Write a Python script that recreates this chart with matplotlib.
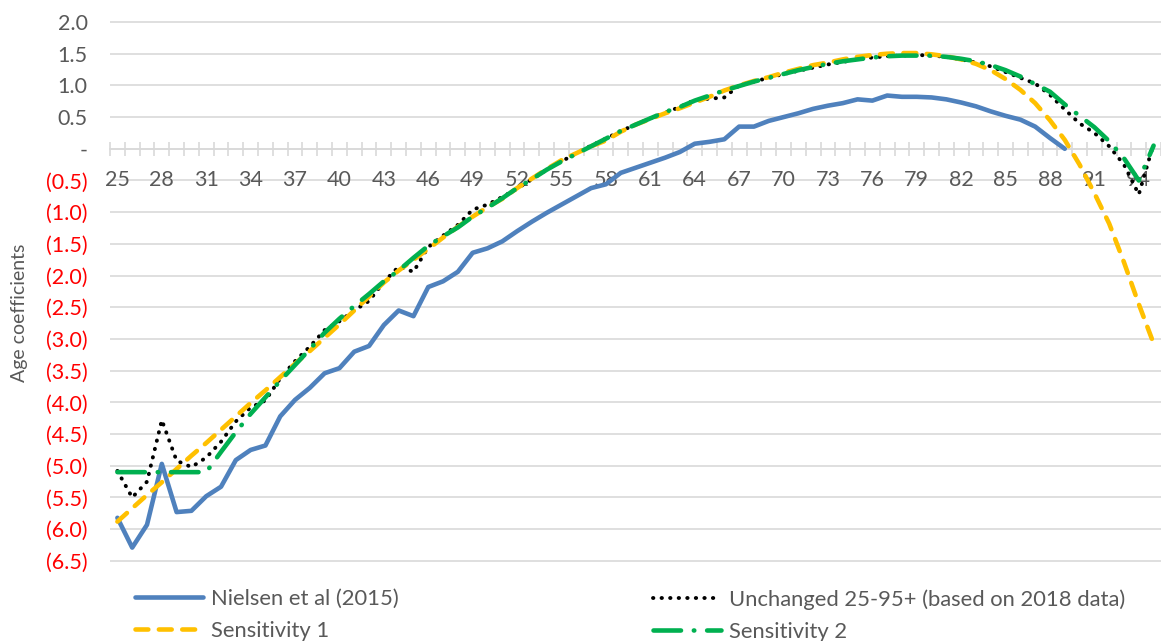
"""
Age coefficients: Nielsen et al (2015) vs 2018 based estimates and sensitivities.
"""

import numpy as np
import matplotlib.pyplot as plt

plt.rcParams['font.family'] = ['Lato', 'DejaVu Sans']

ages = list(range(25, 96))

nielsen = [-5.82, -6.29, -5.93, -4.97, -5.73, -5.71, -5.48, -5.33, -4.91, -4.75,
           -4.68, -4.22, -3.96, -3.77, -3.54, -3.46, -3.20, -3.11, -2.78, -2.55,
           -2.64, -2.18, -2.09, -1.94, -1.64, -1.57, -1.46, -1.30, -1.15, -1.01,
           -0.88, -0.75, -0.62, -0.56, -0.38, -0.30, -0.22, -0.14, -0.05, 0.08,
           0.11, 0.15, 0.35, 0.35, 0.44, 0.50, 0.56, 0.63, 0.68, 0.72,
           0.78, 0.76, 0.84, 0.82, 0.82, 0.81, 0.78, 0.73, 0.67, 0.59,
           0.52, 0.46, 0.35, 0.17, 0.00,
           np.nan, np.nan, np.nan, np.nan, np.nan, np.nan]

unchanged = [-5.08, -5.50, -5.25, -4.28, -4.92, -5.02, -4.87, -4.62, -4.30, -4.08,
             -3.97, -3.62, -3.35, -3.12, -2.86, -2.72, -2.55, -2.40, -2.10, -1.86,
             -1.94, -1.55, -1.37, -1.20, -0.96, -0.88, -0.76, -0.63, -0.48, -0.33,
             -0.20, -0.07, 0.05, 0.16, 0.28, 0.38, 0.48, 0.57, 0.66, 0.77,
             0.79, 0.81, 1.00, 1.06, 1.12, 1.18, 1.23, 1.28, 1.33, 1.37,
             1.41, 1.44, 1.46, 1.47, 1.48, 1.47, 1.45, 1.41, 1.36, 1.30,
             1.21, 1.12, 1.03, 0.85, 0.62, 0.40, 0.25, 0.04, -0.25, -0.72,
             0.08]

sens1 = [-5.88, -5.67, -5.46, -5.26, -5.05, -4.84, -4.64, -4.43, -4.22, -4.01,
         -3.81, -3.60, -3.39, -3.19, -2.98, -2.77, -2.55, -2.33, -2.11, -1.92,
         -1.75, -1.58, -1.40, -1.23, -1.07, -0.92, -0.79, -0.62, -0.47, -0.32,
         -0.18, -0.07, 0.04, 0.13, 0.27, 0.38, 0.47, 0.56, 0.64, 0.73,
         0.82, 0.92, 1.00, 1.07, 1.13, 1.20, 1.26, 1.32, 1.36, 1.41,
         1.45, 1.48, 1.50, 1.51, 1.51, 1.49, 1.46, 1.41, 1.34, 1.24,
         1.10, 0.93, 0.72, 0.45, 0.14, -0.25, -0.70, -1.18, -1.79, -2.45,
         -3.07]

sens2 = [-5.10, -5.10, -5.10, -5.10, -5.10, -5.10, -5.10, -4.78, -4.47, -4.18,
         -3.92, -3.66, -3.41, -3.16, -2.90, -2.68, -2.48, -2.29, -2.09, -1.92,
         -1.72, -1.53, -1.38, -1.24, -1.07, -0.93, -0.78, -0.62, -0.48, -0.33,
         -0.20, -0.08, 0.04, 0.16, 0.28, 0.38, 0.48, 0.58, 0.66, 0.76,
         0.84, 0.92, 0.99, 1.06, 1.12, 1.18, 1.24, 1.29, 1.34, 1.38,
         1.41, 1.44, 1.46, 1.47, 1.47, 1.47, 1.45, 1.42, 1.38, 1.32,
         1.24, 1.14, 1.02, 0.90, 0.70, 0.52, 0.34, 0.12, -0.15, -0.50,
         0.05]

y_ticks = [2.0, 1.5, 1.0, 0.5, 0.0, -0.5, -1.0, -1.5, -2.0, -2.5, -3.0,
           -3.5, -4.0, -4.5, -5.0, -5.5, -6.0, -6.5]

labels = ['Nielsen et al (2015)', 'Unchanged 25-95+ (based on 2018 data)',
          'Sensitivity 1', 'Sensitivity 2']


def fmt(v):
    if v == 0:
        return '-'
    if v < 0:
        return '({:.1f})'.format(-v)
    return '{:.1f}'.format(v)


W, H = 1161, 641
grey = '#595959'
gridc = '#D9D9D9'

fig = plt.figure(figsize=(W / 100, H / 100), dpi=100)
ymin, ymax = -6.6, 2.1
px_per_unit = 63.4
top_px = 22 - 0.1 * px_per_unit
ax_h = (ymax - ymin) * px_per_unit
ax = fig.add_axes([110 / W, 1 - (top_px + ax_h) / H, 1051 / W, ax_h / H])

x = np.arange(len(ages))

ax.plot(x, nielsen, color='#4F81BD', lw=3.3, solid_capstyle='round',
        solid_joinstyle='round', zorder=3, label=labels[0])
ax.plot(x, unchanged, color='black', lw=2.8, ls=(0, (0.1, 2.1)),
        dash_capstyle='round', zorder=4, label=labels[1])
ax.plot(x, sens1, color='#FFC000', lw=3.3, ls=(0, (2.8, 2.3)),
        dash_capstyle='round', zorder=5, label=labels[2])
ax.plot(x, sens2, color='#00B050', lw=3.3, ls=(0, (6, 2.8, 0.1, 2.8)),
        dash_capstyle='round', zorder=6, label=labels[3])

ax.set_xlim(-0.5, len(ages) - 0.5)
ax.set_ylim(ymin, ymax)

# y axis
ax.set_yticks(y_ticks)
ax.set_yticklabels([fmt(v) for v in y_ticks], fontsize=15.5)
for lbl, v in zip(ax.get_yticklabels(), y_ticks):
    lbl.set_color('#FF0000' if v < 0 else grey)
ax.tick_params(axis='y', length=0, pad=16)
ax.yaxis.grid(True, color=gridc, lw=1.2)
ax.set_axisbelow(True)

# x axis crossing at zero, cross ticks between categories
for s in ['top', 'right', 'left']:
    ax.spines[s].set_visible(False)
ax.spines['bottom'].set_position(('data', 0))
ax.spines['bottom'].set_color(gridc)
ax.spines['bottom'].set_linewidth(1.2)
ax.set_xticks(np.arange(len(ages) + 1) - 0.5)
ax.tick_params(axis='x', direction='inout', length=9.5, width=1.2,
               color=gridc, labelbottom=False)
for i, a in enumerate(ages):
    if (a - 25) % 3 == 0:
        ax.text(i, -0.5, str(a), ha='center', va='center', fontsize=15.5,
                color=grey, zorder=1.5)

fig.text(20 / W, 1 - 313 / H, 'Age coefficients', rotation=90, ha='center',
         va='center', fontsize=14, color=grey)

# legend in two columns
h = ax.get_lines()
leg_kw = dict(loc='upper left', frameon=False, fontsize=15.8, borderpad=0,
              borderaxespad=0, handlelength=3.1, handletextpad=0.35,
              labelspacing=0.55, labelcolor=grey)
leg1 = fig.legend([h[0], h[2]], [labels[0], labels[2]],
                  bbox_to_anchor=(135 / W, 1 - 589 / H), **leg_kw)
leg2 = fig.legend([h[1], h[3]], [labels[1], labels[3]],
                  bbox_to_anchor=(653 / W, 1 - 589 / H), **leg_kw)

plt.savefig('out.png', dpi=100)
